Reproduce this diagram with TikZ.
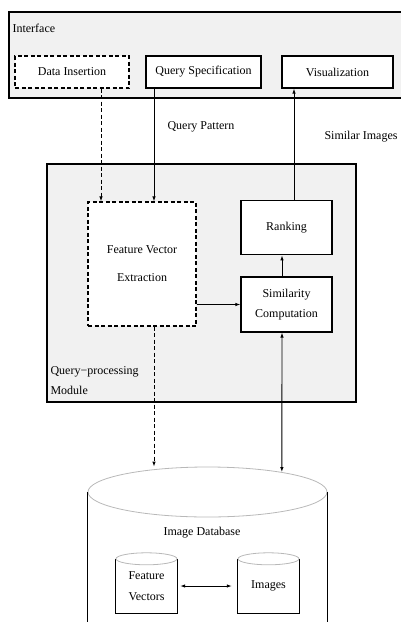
\documentclass[tikz,border=0pt]{standalone}
\usepackage{fontspec}
\setmainfont{Liberation Serif}
\usetikzlibrary{arrows.meta,positioning,shapes.geometric}
\definecolor{panelgray}{HTML}{F1F1F1}
\definecolor{lidgray}{HTML}{B8B8B8}
\tikzset{
  panel/.style={
    draw,
    fill=panelgray,
    line width=1.2pt,
    inner sep=0pt
  },
  block/.style={
    draw,
    fill=white,
    line width=1.2pt,
    inner sep=1pt,
    align=center
  },
  dashblock/.style={block,dash pattern=on 4pt off 2.5pt},
  flow/.style={-{Latex[length=5pt,width=3.5pt]},line width=0.9pt},
  dashflow/.style={flow,dash pattern=on 4pt off 2.5pt},
  biflow/.style={{Latex[length=5pt,width=3.5pt]}-{Latex[length=5pt,width=3.5pt]},line width=0.9pt},
  lid/.style={ellipse,draw=lidgray,line width=0.8pt,inner sep=0pt},
  store/.style={minimum width=61pt,minimum height=54pt,inner sep=0pt,align=left,
    font=\fontsize{12}{21}\selectfont}
}

\begin{document}
\begin{tikzpicture}[x=1pt,y=-1pt,font=\fontsize{12}{14}\selectfont]
\useasboundingbox (0,0) rectangle (400,622);

% Interface
\node[panel,minimum width=396pt,minimum height=86pt] (iface) at (207,55) {};
\node[anchor=west] (ifacelbl) at (9,28) {Interface};

\node[dashblock,minimum width=114pt,minimum height=32pt] (data) at (72,72) {Data Insertion};
\node[block,minimum width=115pt,minimum height=32pt] (qspec) at (203.5,72) {Query Specification};
\node[block,minimum width=111pt,minimum height=32pt] (vis) at (337.5,72) {Visualization};

\node (qpat) at (201,127) {Query Pattern};
\node (simimg) at (361,137) {Similar Images};

% Query-processing module
\node[panel,minimum width=309pt,minimum height=238pt] (qpm) at (201.5,283) {};
\node[anchor=west,align=left,font=\fontsize{12}{20}\selectfont] (qpmlbl) at (47,381) {Query−processing\\Module};

\node[dashblock,minimum width=108pt,minimum height=124pt,font=\fontsize{12}{28}\selectfont] (fve) at (142,264) {Feature Vector\\Extraction};
\node[block,minimum width=91pt,minimum height=55pt,font=\fontsize{12}{20}\selectfont] (sim) at (286.5,304.5) {Similarity\\Computation};
\node[block,minimum width=91pt,minimum height=54pt,above=21pt of sim] (rank) {Ranking};

% Image database
\node[lid,minimum width=239pt,minimum height=50pt] (db) at (207.5,492) {};
\draw[line width=1pt] (db.west) -- ++(0,150) (db.east) -- ++(0,150);
\node (dblbl) at (202,533) {Image Database};

\node[store] (fv) at (146.5,586) {Feature\\Vectors};
\node[store] (img) at (268.5,586) {Images};
\foreach \s in {fv,img} {
  \draw[line width=1pt] (\s.north west) -- (\s.south west) -- (\s.south east) -- (\s.north east);
  \node[lid,minimum width=61pt,minimum height=12pt] (\s-lid) at (\s.north) {};
}

% connections
\draw[dashflow] ([xshift=29pt]data.south) -- ([xshift=-41pt]fve.north);
\draw[flow] ([xshift=-49.5pt]qspec.south) -- ([xshift=12pt]fve.north);
\draw[flow] ([xshift=7.5pt]rank.north) -- ([xshift=-43.5pt]vis.south);
\draw[flow] (fve.east |- sim.west) -- (sim.west);
\draw[flow] ([xshift=-4.5pt]sim.north) -- ([xshift=-4.5pt]rank.south);
\draw[dashflow] ([xshift=12pt]fve.south) -- ([xshift=12pt]fve.south |- db.north);
\draw[biflow] ([xshift=-4.5pt]sim.south) -- (db.15);
\draw[biflow,shorten <=3pt,shorten >=6pt] (fv.east) -- (img.west);

\end{tikzpicture}
\end{document}
